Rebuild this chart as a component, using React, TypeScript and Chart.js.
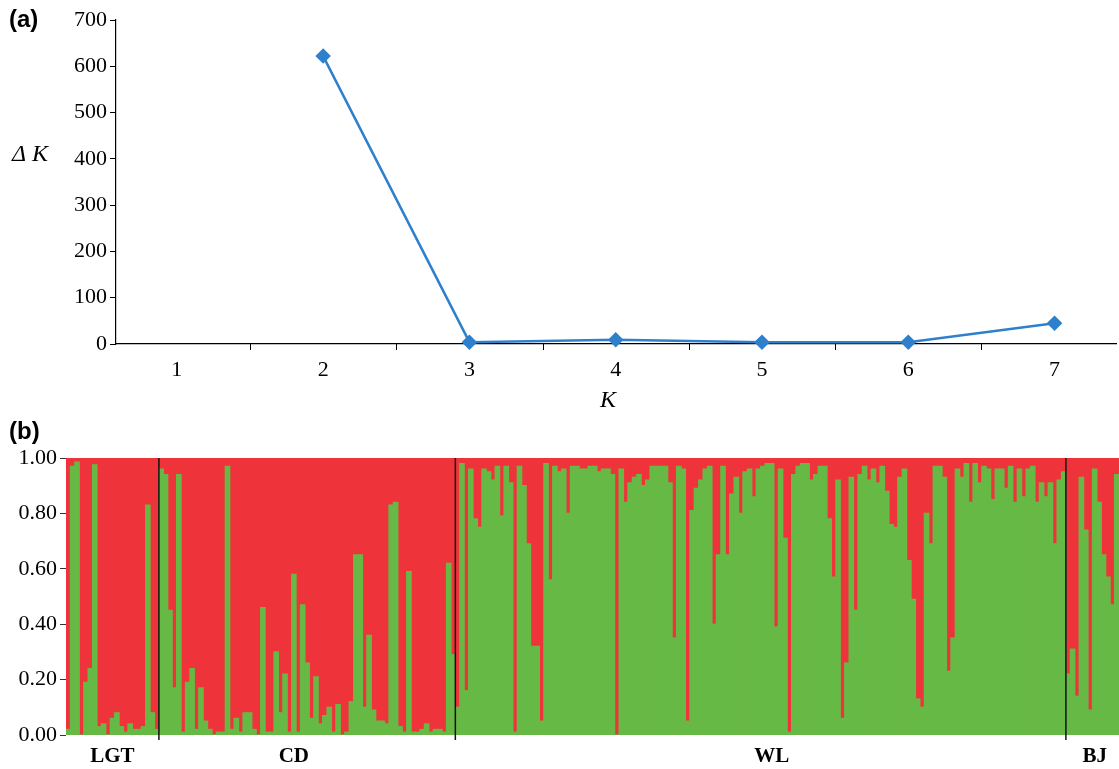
import React, { useEffect, useRef } from 'react';
import { Chart, registerables } from 'chart.js';
Chart.register(...registerables);

// ---------- Panel (a) data ----------
const kValues = [1, 2, 3, 4, 5, 6, 7];
const deltaK: (number | null)[] = [null, 622, 4, 9, 4, 4, 45];

// ---------- Panel (b) data: green (cluster 1) membership per individual ----------
const popNames = ['LGT', 'CD', 'WL', 'BJ'];
const lgt = [0.02, 0.97, 0.985, 0.0, 0.19, 0.24, 0.975, 0.03, 0.04, 0.0, 0.06, 0.08, 0.03, 0.01, 0.04, 0.02, 0.02, 0.03, 0.83, 0.08, 0.02];
const cd = [0.96, 0.94, 0.45, 0.17, 0.94, 0.01, 0.19, 0.24, 0.02, 0.17, 0.05, 0.02, 0.0, 0.01, 0.01, 0.97, 0.02, 0.06, 0.01, 0.08, 0.08,
  0.02, 0.0, 0.46, 0.01, 0.01, 0.30, 0.08, 0.22, 0.01, 0.58, 0.01, 0.47, 0.26, 0.06, 0.21, 0.04, 0.07, 0.10, 0.01, 0.11, 0.0, 0.01,
  0.12, 0.65, 0.65, 0.10, 0.36, 0.09, 0.05, 0.05, 0.04, 0.83, 0.84, 0.03, 0.01, 0.59, 0.01, 0.01, 0.02, 0.04, 0.01, 0.02, 0.02,
  0.01, 0.62, 0.29];
const wl = [0.10, 0.98, 0.16, 0.96, 0.78, 0.75, 0.96, 0.95, 0.92, 0.97, 0.79, 0.97, 0.91, 0.01, 0.97, 0.90, 0.69, 0.32, 0.32,
  0.05, 0.98, 0.56, 0.97, 0.95, 0.96, 0.80, 0.97, 0.97, 0.96, 0.96, 0.97, 0.97, 0.95, 0.96, 0.96, 0.94, 0.00, 0.96, 0.84, 0.91,
  0.93, 0.94, 0.90, 0.92, 0.97, 0.97, 0.97, 0.97, 0.91, 0.35, 0.97, 0.96, 0.05, 0.81, 0.89, 0.92, 0.96, 0.97, 0.40, 0.65, 0.97, 0.65,
  0.87, 0.93, 0.80, 0.95, 0.96, 0.86, 0.96, 0.97, 0.98, 0.98, 0.39, 0.96, 0.71, 0.01, 0.94, 0.97, 0.98, 0.98, 0.92, 0.94, 0.97,
  0.97, 0.78, 0.57, 0.92, 0.06, 0.26, 0.93, 0.45, 0.94, 0.97, 0.92, 0.96, 0.91, 0.97, 0.88, 0.76, 0.75, 0.93, 0.96, 0.63, 0.49, 0.13,
  0.10, 0.80, 0.69, 0.97, 0.97, 0.93, 0.23, 0.35, 0.96, 0.93, 0.98, 0.84, 0.98, 0.91, 0.97, 0.96, 0.85, 0.96, 0.96, 0.89, 0.97,
  0.84, 0.96, 0.86, 0.96, 0.97, 0.84, 0.91, 0.86, 0.91, 0.69, 0.92, 0.95];
const bj = [0.22, 0.31, 0.14, 0.93, 0.74, 0.09, 0.96, 0.84, 0.65, 0.57, 0.47, 0.94];
const yTicksB = [0, 0.2, 0.4, 0.6, 0.8, 1.0];

const groups = [lgt, cd, wl, bj];
const green: number[] = groups.flat();
const red: number[] = green.map((v) => 1 - v);
const labelsB: string[] = [];
const popLabelAt: Record<number, string> = {};
const boundaries: number[] = [];
{
  let start = 0;
  groups.forEach((g, gi) => {
    g.forEach((_, i) => labelsB.push(popNames[gi] + '-' + (i + 1)));
    popLabelAt[start + Math.floor(g.length * (gi === 1 ? 0.45 : gi === 2 ? 0.52 : 0.5))] = popNames[gi];
    start += g.length;
    if (gi < groups.length - 1) boundaries.push(start);
  });
}

const SERIF = '"Liberation Serif", "Times New Roman", serif';
const SANS = '"Liberation Sans", Arial, sans-serif';
const BLUE = '#2F80CC';
const GREEN = '#67B946';
const RED = '#EE343A';

const noPadX = (h: number) => (s: any) => {
  s.height = h;
  s.paddingLeft = 0;
  s.paddingRight = 0;
};
const noPadY = (w: number) => (s: any) => {
  s.width = w;
  s.paddingTop = 0;
  s.paddingBottom = 0;
};

export default function App() {
  const refA = useRef<HTMLCanvasElement>(null);
  const refB = useRef<HTMLCanvasElement>(null);

  useEffect(() => {
    const decoA = {
      id: 'decoA',
      afterDraw(chart: any) {
        const ctx = chart.ctx;
        const xs = chart.scales.x;
        const ca = chart.chartArea;
        ctx.save();
        ctx.strokeStyle = '#000';
        ctx.lineWidth = 1;
        for (let k = 1.5; k < 7; k += 1) {
          const x = Math.round(xs.getPixelForValue(k)) + 0.5;
          ctx.beginPath();
          ctx.moveTo(x, ca.bottom);
          ctx.lineTo(x, ca.bottom + 6);
          ctx.stroke();
        }
        ctx.fillStyle = '#000';
        ctx.font = 'bold 24px ' + SANS;
        ctx.textBaseline = 'middle';
        ctx.textAlign = 'left';
        ctx.fillText('(a)', 9, 20);
        ctx.font = 'italic 24px ' + SERIF;
        ctx.fillText('\u0394 K', 12, 155);
        ctx.textAlign = 'center';
        ctx.fillText('K', 608, 401);
        ctx.restore();
      },
    };

    const chartA = new Chart(refA.current!, {
      type: 'line',
      data: {
        datasets: [
          {
            data: kValues.map((k, i) => ({ x: k, y: deltaK[i] })) as any,
            borderColor: BLUE,
            backgroundColor: BLUE,
            borderWidth: 2.5,
            pointStyle: 'rectRot',
            pointRadius: 6,
            pointBackgroundColor: BLUE,
            pointBorderColor: BLUE,
            spanGaps: false,
            clip: false as any,
          },
        ],
      },
      options: {
        animation: false,
        responsive: false,
        devicePixelRatio: 1,
        layout: { autoPadding: false, padding: { top: 20, right: 3, left: 0, bottom: 0 } },
        plugins: { legend: { display: false }, tooltip: { enabled: false } },
        scales: {
          x: {
            type: 'linear',
            min: 0.584,
            max: 7.42,
            afterBuildTicks: (s: any) => {
              s.ticks = kValues.map((v) => ({ value: v }));
            },
            afterFit: noPadX(71),
            grid: { drawOnChartArea: false, drawTicks: false },
            border: { color: '#000', width: 1.2 },
            ticks: { color: '#000', font: { family: SERIF, size: 22 }, padding: 13, callback: (v: any) => String(v) },
          },
          y: {
            min: 0,
            max: 700,
            afterFit: noPadY(116),
            grid: { drawOnChartArea: false, tickLength: 6, color: '#000' },
            border: { color: '#000', width: 1.2 },
            ticks: { stepSize: 100, color: '#000', font: { family: SERIF, size: 22 }, padding: 3 },
          },
        },
      },
      plugins: [decoA],
    });

    const decoB = {
      id: 'decoB',
      afterDatasetsDraw(chart: any) {
        const ctx = chart.ctx;
        const xs = chart.scales.x;
        const ca = chart.chartArea;
        ctx.save();
        ctx.strokeStyle = '#111';
        ctx.lineWidth = 1.5;
        boundaries.forEach((b) => {
          const x = (xs.getPixelForValue(b - 1) + xs.getPixelForValue(b)) / 2;
          ctx.beginPath();
          ctx.moveTo(x, ca.top);
          ctx.lineTo(x, ca.bottom + 5);
          ctx.stroke();
        });
        ctx.fillStyle = '#000';
        ctx.font = 'bold 24px ' + SANS;
        ctx.textBaseline = 'middle';
        ctx.textAlign = 'left';
        ctx.fillText('(b)', 9, 12);
        ctx.restore();
      },
    };

    const chartB = new Chart(refB.current!, {
      type: 'bar',
      data: {
        labels: labelsB,
        datasets: [
          { data: green, backgroundColor: GREEN, borderWidth: 0, barPercentage: 1, categoryPercentage: 1, inflateAmount: 0.6 } as any,
          { data: red, backgroundColor: RED, borderWidth: 0, barPercentage: 1, categoryPercentage: 1, inflateAmount: 0.6 } as any,
        ],
      },
      options: {
        animation: false,
        responsive: false,
        devicePixelRatio: 1,
        layout: { autoPadding: false, padding: { top: 38, right: 0, left: 0, bottom: 0 } },
        plugins: { legend: { display: false }, tooltip: { enabled: false } },
        scales: {
          x: {
            stacked: true,
            afterFit: noPadX(34),
            grid: { display: false, drawTicks: false },
            border: { display: false },
            ticks: {
              autoSkip: false,
              maxRotation: 0,
              minRotation: 0,
              padding: 9,
              color: '#000',
              font: { family: SERIF, size: 21, weight: 'bold' },
              callback: (_v: any, i: number) => popLabelAt[i] || '',
            },
          },
          y: {
            stacked: true,
            min: 0,
            max: 1,
            afterBuildTicks: (s: any) => {
              s.ticks = yTicksB.map((v) => ({ value: v }));
            },
            afterFit: noPadY(66),
            grid: { drawOnChartArea: false, tickLength: 6, color: '#333' },
            border: { display: false },
            ticks: { color: '#000', font: { family: SERIF, size: 22 }, padding: 3, callback: (v: any) => Number(v).toFixed(2) },
          },
        },
      },
      plugins: [decoB],
    });

    return () => {
      chartA.destroy();
      chartB.destroy();
    };
  }, []);

  return (
    <div style={{ position: 'absolute', left: 0, top: 0, width: 1119, height: 769, background: '#fff' }}>
      <canvas ref={refA} width={1119} height={415} style={{ position: 'absolute', left: 0, top: 0, width: 1119, height: 415 }} />
      <canvas ref={refB} width={1119} height={349} style={{ position: 'absolute', left: 0, top: 420, width: 1119, height: 349 }} />
    </div>
  );
}
